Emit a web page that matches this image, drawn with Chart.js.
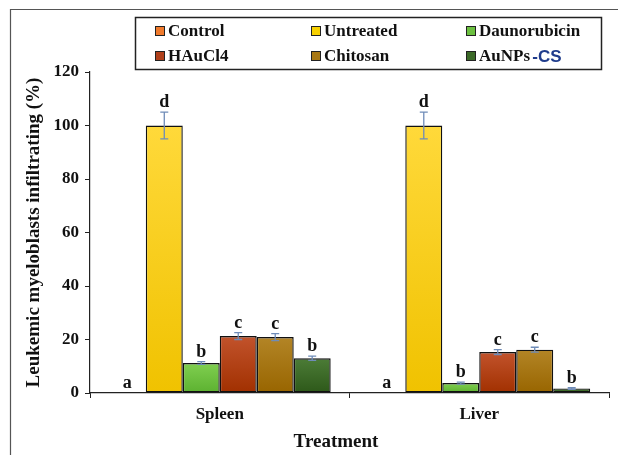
<!DOCTYPE html>
<html><head><meta charset="utf-8">
<script src="https://cdn.jsdelivr.net/npm/chart.js@4"></script>
<style>html,body{margin:0;padding:0;background:#fff;}#wrap{width:618px;height:455px;position:relative;}</style>
</head><body><div id="wrap"><canvas id="c" width="618" height="455"></canvas></div>
<script>
const categories = ['Spleen', 'Liver'];
const seriesNames = ['Control', 'Untreated', 'Daunorubicin', 'HAuCl4', 'Chitosan', 'AuNPs -CS'];
const control = [0, 0];
const untreated = [100, 100];
const daunorubicin = [11.2, 3.7];
const haucl4 = [21.3, 15.3];
const chitosan = [20.9, 16.2];
const aunpsCS = [13.0, 1.7];
const controlErr = [0, 0];
const untreatedErr = [5, 5];
const daunorubicinErr = [0.5, 0.4];
const haucl4Err = [1.3, 0.9];
const chitosanErr = [1.3, 0.9];
const aunpsCSErr = [0.8, 0.3];
const controlLetters = ['a', 'a'];
const untreatedLetters = ['d', 'd'];
const daunorubicinLetters = ['b', 'b'];
const haucl4Letters = ['c', 'c'];
const chitosanLetters = ['c', 'c'];
const aunpsCSLetters = ['b', 'b'];
const yTicks = [0, 20, 40, 60, 80, 100, 120];
const xTitle = 'Treatment';

const values = [control, untreated, daunorubicin, haucl4, chitosan, aunpsCS];
const errors = [controlErr, untreatedErr, daunorubicinErr, haucl4Err, chitosanErr, aunpsCSErr];
const letters = [controlLetters, untreatedLetters, daunorubicinLetters, haucl4Letters, chitosanLetters, aunpsCSLetters];
const gradTop = ['#F58A45', '#FFD93A', '#80CF50', '#C2532C', '#B38526', '#4C7C37'];
const gradBot = ['#E36A1C', '#F0C200', '#5CB130', '#A13000', '#986500', '#2D5819'];
const legendColors = ['#F07A2C', '#F7D000', '#6CC040', '#B0401A', '#A87814', '#3C6A28'];

const SERIF = '"Liberation Serif", "Times New Roman", serif';

function makeBg(i) {
  return function(ctx) {
    const chart = ctx.chart;
    const area = chart.chartArea;
    if (!area || ctx.type !== 'data') return gradBot[i];
    const y = chart.scales.y;
    const top = y.getPixelForValue(ctx.raw);
    const bot = y.getPixelForValue(0);
    if (!isFinite(top) || Math.abs(bot - top) < 1) return gradBot[i];
    const g = chart.ctx.createLinearGradient(0, top, 0, bot);
    g.addColorStop(0, gradTop[i]);
    g.addColorStop(1, gradBot[i]);
    return g;
  };
}

const datasets = seriesNames.map((n, i) => ({
  label: n,
  data: values[i],
  backgroundColor: makeBg(i),
  borderColor: '#111',
  borderWidth: 1.4,
  borderSkipped: false,
  categoryPercentage: 0.855,
  barPercentage: 1.0
}));

const extras = {
  id: 'extras',
  beforeDraw(chart) {
    const c = chart.ctx;
    c.save();
    c.fillStyle = '#fff';
    c.fillRect(0, 0, chart.width, chart.height);
    c.strokeStyle = '#555';
    c.lineWidth = 1.2;
    c.beginPath();
    c.moveTo(10.5, 455); c.lineTo(10.5, 9.5); c.lineTo(618, 9.5);
    c.stroke();
    c.restore();
  },
  afterDatasetsDraw(chart) {
    const c = chart.ctx;
    const y = chart.scales.y;
    c.save();
    chart.data.datasets.forEach((ds, i) => {
      const meta = chart.getDatasetMeta(i);
      meta.data.forEach((bar, j) => {
        const v = values[i][j];
        const e = errors[i][j];
        const x = bar.x;
        let topY = y.getPixelForValue(v);
        if (e > 0) {
          const yHi = y.getPixelForValue(v + e);
          const yLo = y.getPixelForValue(v - e);
          c.strokeStyle = '#6F8CB8';
          c.lineWidth = 1.3;
          c.beginPath();
          c.moveTo(x, yHi); c.lineTo(x, yLo);
          c.moveTo(x - 4, yHi); c.lineTo(x + 4, yHi);
          c.moveTo(x - 4, yLo); c.lineTo(x + 4, yLo);
          c.stroke();
          topY = yHi;
        }
        c.fillStyle = '#111';
        c.font = 'bold 18px ' + SERIF;
        c.textAlign = 'center';
        c.textBaseline = 'alphabetic';
        if (v === 0) {
          c.fillText(letters[i][j], x, y.getPixelForValue(0) - 5);
        } else {
          c.fillText(letters[i][j], x, topY - 5);
        }
      });
    });
    c.restore();
  },
  afterDraw(chart) {
    const c = chart.ctx;
    c.save();
    c.fillStyle = '#111';
    c.font = 'bold 19px ' + SERIF;
    c.textAlign = 'center';
    c.textBaseline = 'middle';
    c.fillText(xTitle, 336, 442);
    c.strokeStyle = '#222';
    c.lineWidth = 1.5;
    c.strokeRect(135.5, 17.5, 466, 52);
    const colsX = [155, 311, 466];
    const rowsY = [31, 56];
    c.textBaseline = 'middle';
    c.textAlign = 'left';
    seriesNames.forEach((n, i) => {
      const col = i % 3, row = Math.floor(i / 3);
      const x = colsX[col], yy = rowsY[row];
      c.fillStyle = legendColors[i];
      c.fillRect(x, yy - 5, 10, 10);
      c.strokeStyle = '#222';
      c.lineWidth = 1;
      c.strokeRect(x + 0.5, yy - 4.5, 9, 9);
      c.fillStyle = '#111';
      c.font = 'bold 17px ' + SERIF;
      if (n === 'AuNPs -CS') {
        c.fillText('AuNPs ', x + 13, yy + 1);
        const w = c.measureText('AuNPs ').width;
        c.fillStyle = '#1F3C8C';
        c.font = 'bold 17px "Liberation Sans", Arial, sans-serif';
        c.fillText('-CS', x + 13 + w - 2, yy + 1);
      } else {
        c.fillText(n, x + 13, yy + 1);
      }
    });
    c.restore();
  }
};

new Chart(document.getElementById('c'), {
  type: 'bar',
  data: { labels: categories, datasets },
  options: {
    responsive: false,
    animation: false,
    devicePixelRatio: 1,
    layout: { padding: { left: 14, right: 9, top: 72, bottom: 0 } },
    plugins: { legend: { display: false }, tooltip: { enabled: false } },
    scales: {
      x: {
        offset: true,
        afterFit(scale) { scale.height = 62; },
        grid: { display: true, offset: true, drawOnChartArea: false, drawTicks: true, tickLength: 5, color: '#222', lineWidth: 1 },
        border: { display: true, color: '#222', width: 1.2 },
        ticks: { color: '#111', font: { family: SERIF, size: 17, weight: 'bold' }, padding: 6 }
      },
      y: {
        min: 0, max: 120,
        afterBuildTicks(scale) { scale.ticks = yTicks.map(v => ({ value: v })); },
        afterFit(scale) { scale.width = 76; },
        grid: { display: true, drawOnChartArea: false, drawTicks: true, tickLength: 5, color: '#222', lineWidth: 1 },
        border: { display: true, color: '#222', width: 1.2 },
        ticks: { color: '#111', font: { family: SERIF, size: 17, weight: 'bold' }, padding: 6 },
        title: { display: true, text: 'Leukemic myeloblasts infiltrating (%)', color: '#111', font: { family: SERIF, size: 19, weight: 'bold' }, padding: { top: 9, bottom: 0 } }
      }
    }
  },
  plugins: [extras]
});
</script></body></html>
